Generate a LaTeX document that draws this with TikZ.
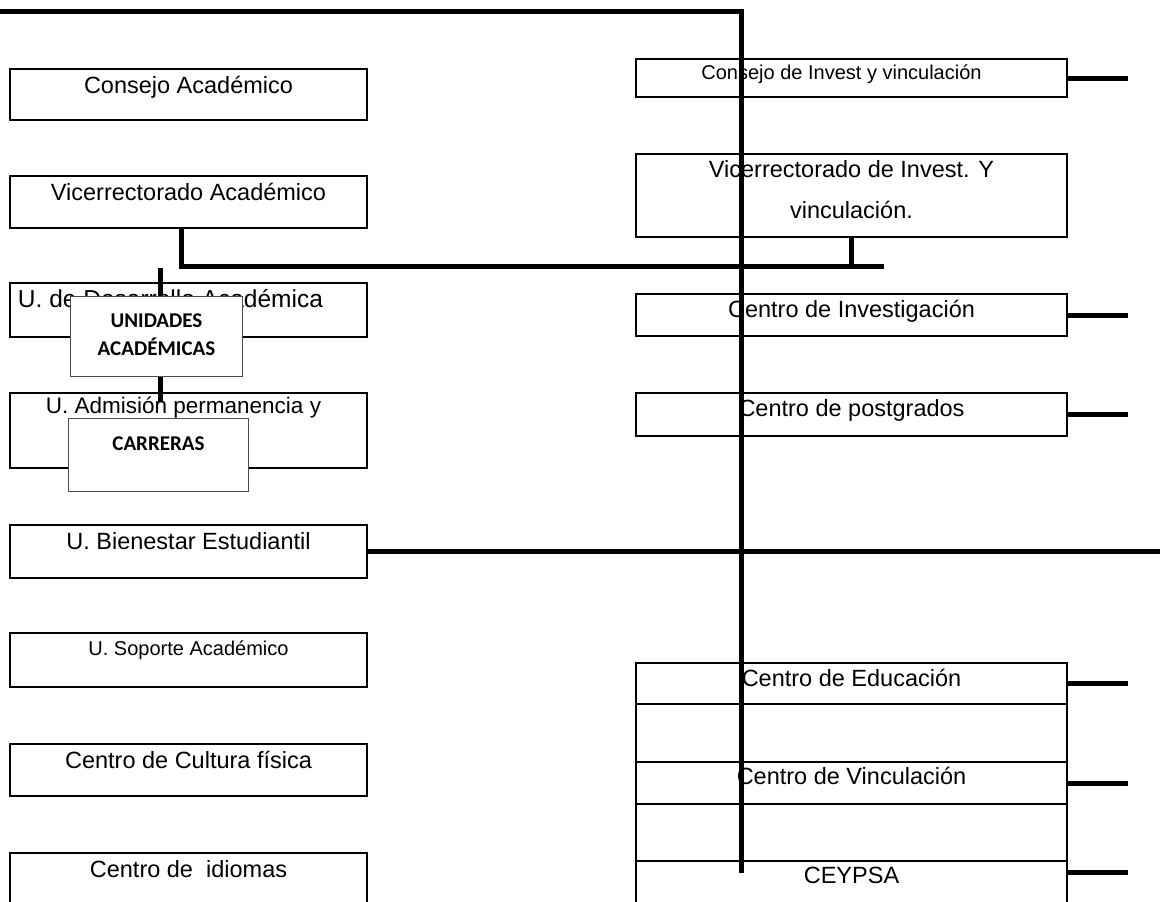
\documentclass[tikz,border=0pt]{standalone}
\usepackage{fontspec}
\setmainfont{Liberation Sans}
\newfontfamily\calfont{Carlito}
\usetikzlibrary{positioning}

\tikzset{
  orgbox/.style={draw, line width=2pt, fill=white, inner sep=0pt, anchor=north west,
    font=\fontsize{23.5}{28}\selectfont, text height=24pt},
  lbox/.style={orgbox, minimum width=357pt},
  rbox/.style={orgbox, minimum width=431pt},
  smalltext/.style={font=\fontsize{20}{24}\selectfont},
  tagbox/.style={draw=black!70, line width=1pt, fill=white, inner sep=0pt, anchor=north west,
    align=center, font=\calfont\bfseries\fontsize{21}{28}\selectfont},
  link/.style={line width=5pt},
}

\begin{document}
\begin{tikzpicture}[x=1pt, y=-1pt]
\useasboundingbox (0,0) rectangle (1165,902);
\clip (0,0) rectangle (1165,902);
%% academic side
  \node (cac) at (9,68) [lbox, text depth=27pt] {Consejo Académico};
  \node (vac) at (9,175) [lbox, text depth=28pt] {Vicerrectorado Académico};
  \node (uda) at (9,282) [lbox, font=\fontsize{24.5}{28}\selectfont, text depth=30pt] {U. de Desarrollo Académica\hspace*{36pt}};
  \node (uap) at (9,392) [lbox, font=\fontsize{22.5}{26}\selectfont, text height=20pt, text depth=55pt] {U. Admisión permanencia y\hspace*{10pt}};
  \node (ube) at (9,524) [lbox, text depth=29pt] {U. Bienestar Estudiantil};
  \node (usa) at (9,632) [lbox, smalltext, text height=22pt, text depth=32pt] {U. Soporte Académico};
  \node (ccf) at (9,743) [lbox, text depth=28pt] {Centro de Cultura física};
  \node (cid) at (9,852) [lbox, text depth=60pt] {Centro de\ \ idiomas};
%% research side
  \node (civ) at (635,58) [rbox, smalltext, text height=20pt, text depth=18pt] {Consejo de Invest y vinculación\hspace*{20pt}};
  \node (vin) at (635,153) [rbox, align=center, font=\fontsize{23.5}{41}\selectfont, text height=64pt, text depth=19pt] {Vicerrectorado de Invest. Y\\vinculación.};
  \node (cin) at (635,293) [rbox, text height=23pt, text depth=19pt] {Centro de Investigación};
  \node (cpo) at (635,392) [rbox, text height=23pt, text depth=20pt] {Centro de postgrados};
  \node (ced) at (635,662) [rbox, text height=23pt, text depth=18pt] {Centro de Educación};
  \node (gap1) at (635,703) [rbox, text height=58pt, text depth=0pt] {};
  \node (cvi) at (635,761) [rbox, text height=22pt, text depth=20pt] {Centro de Vinculación};
  \node (gap2) at (635,803) [rbox, text height=57pt, text depth=0pt] {};
  \node (cey) at (635,860) [rbox, text height=22pt, text depth=40pt] {CEYPSA};
%
  \coordinate (topstart) at (0,11);
  \coordinate (trunkend) at (741,873);
  \coordinate (busend) at (884,266);
  \coordinate (stubs) at (1128,0);
  \coordinate (farend) at (1160,0);
  \coordinate (utop) at (160,268);
  \coordinate (ubot) at (160,402);
  \draw [link] (topstart) -| (trunkend);
  \draw [link] ([xshift=-7.5pt]vac.south) |- (busend);
  \draw [link] (vin.south) -- (vin.south |- busend);
  \draw [link] (ube.east) -- (ube.east -| farend);
  \foreach \n in {civ,cin,cpo,ced,cvi}
    \draw [link] (\n.east) -- (\n.east -| stubs);
  \draw [link] ([yshift=-12pt]cey.north east) -- ([yshift=-12pt]cey.north east -| stubs);
  \draw [link] (utop) -- (ubot);
%
  \node (una) at (70,296) [tagbox, minimum width=172pt, text height=59pt, text depth=21pt] {UNIDADES\\ACADÉMICAS};
  \node (car) at (68,418) [tagbox, minimum width=180pt, text height=32pt, text depth=41pt] {CARRERAS};
\end{tikzpicture}
\end{document}
